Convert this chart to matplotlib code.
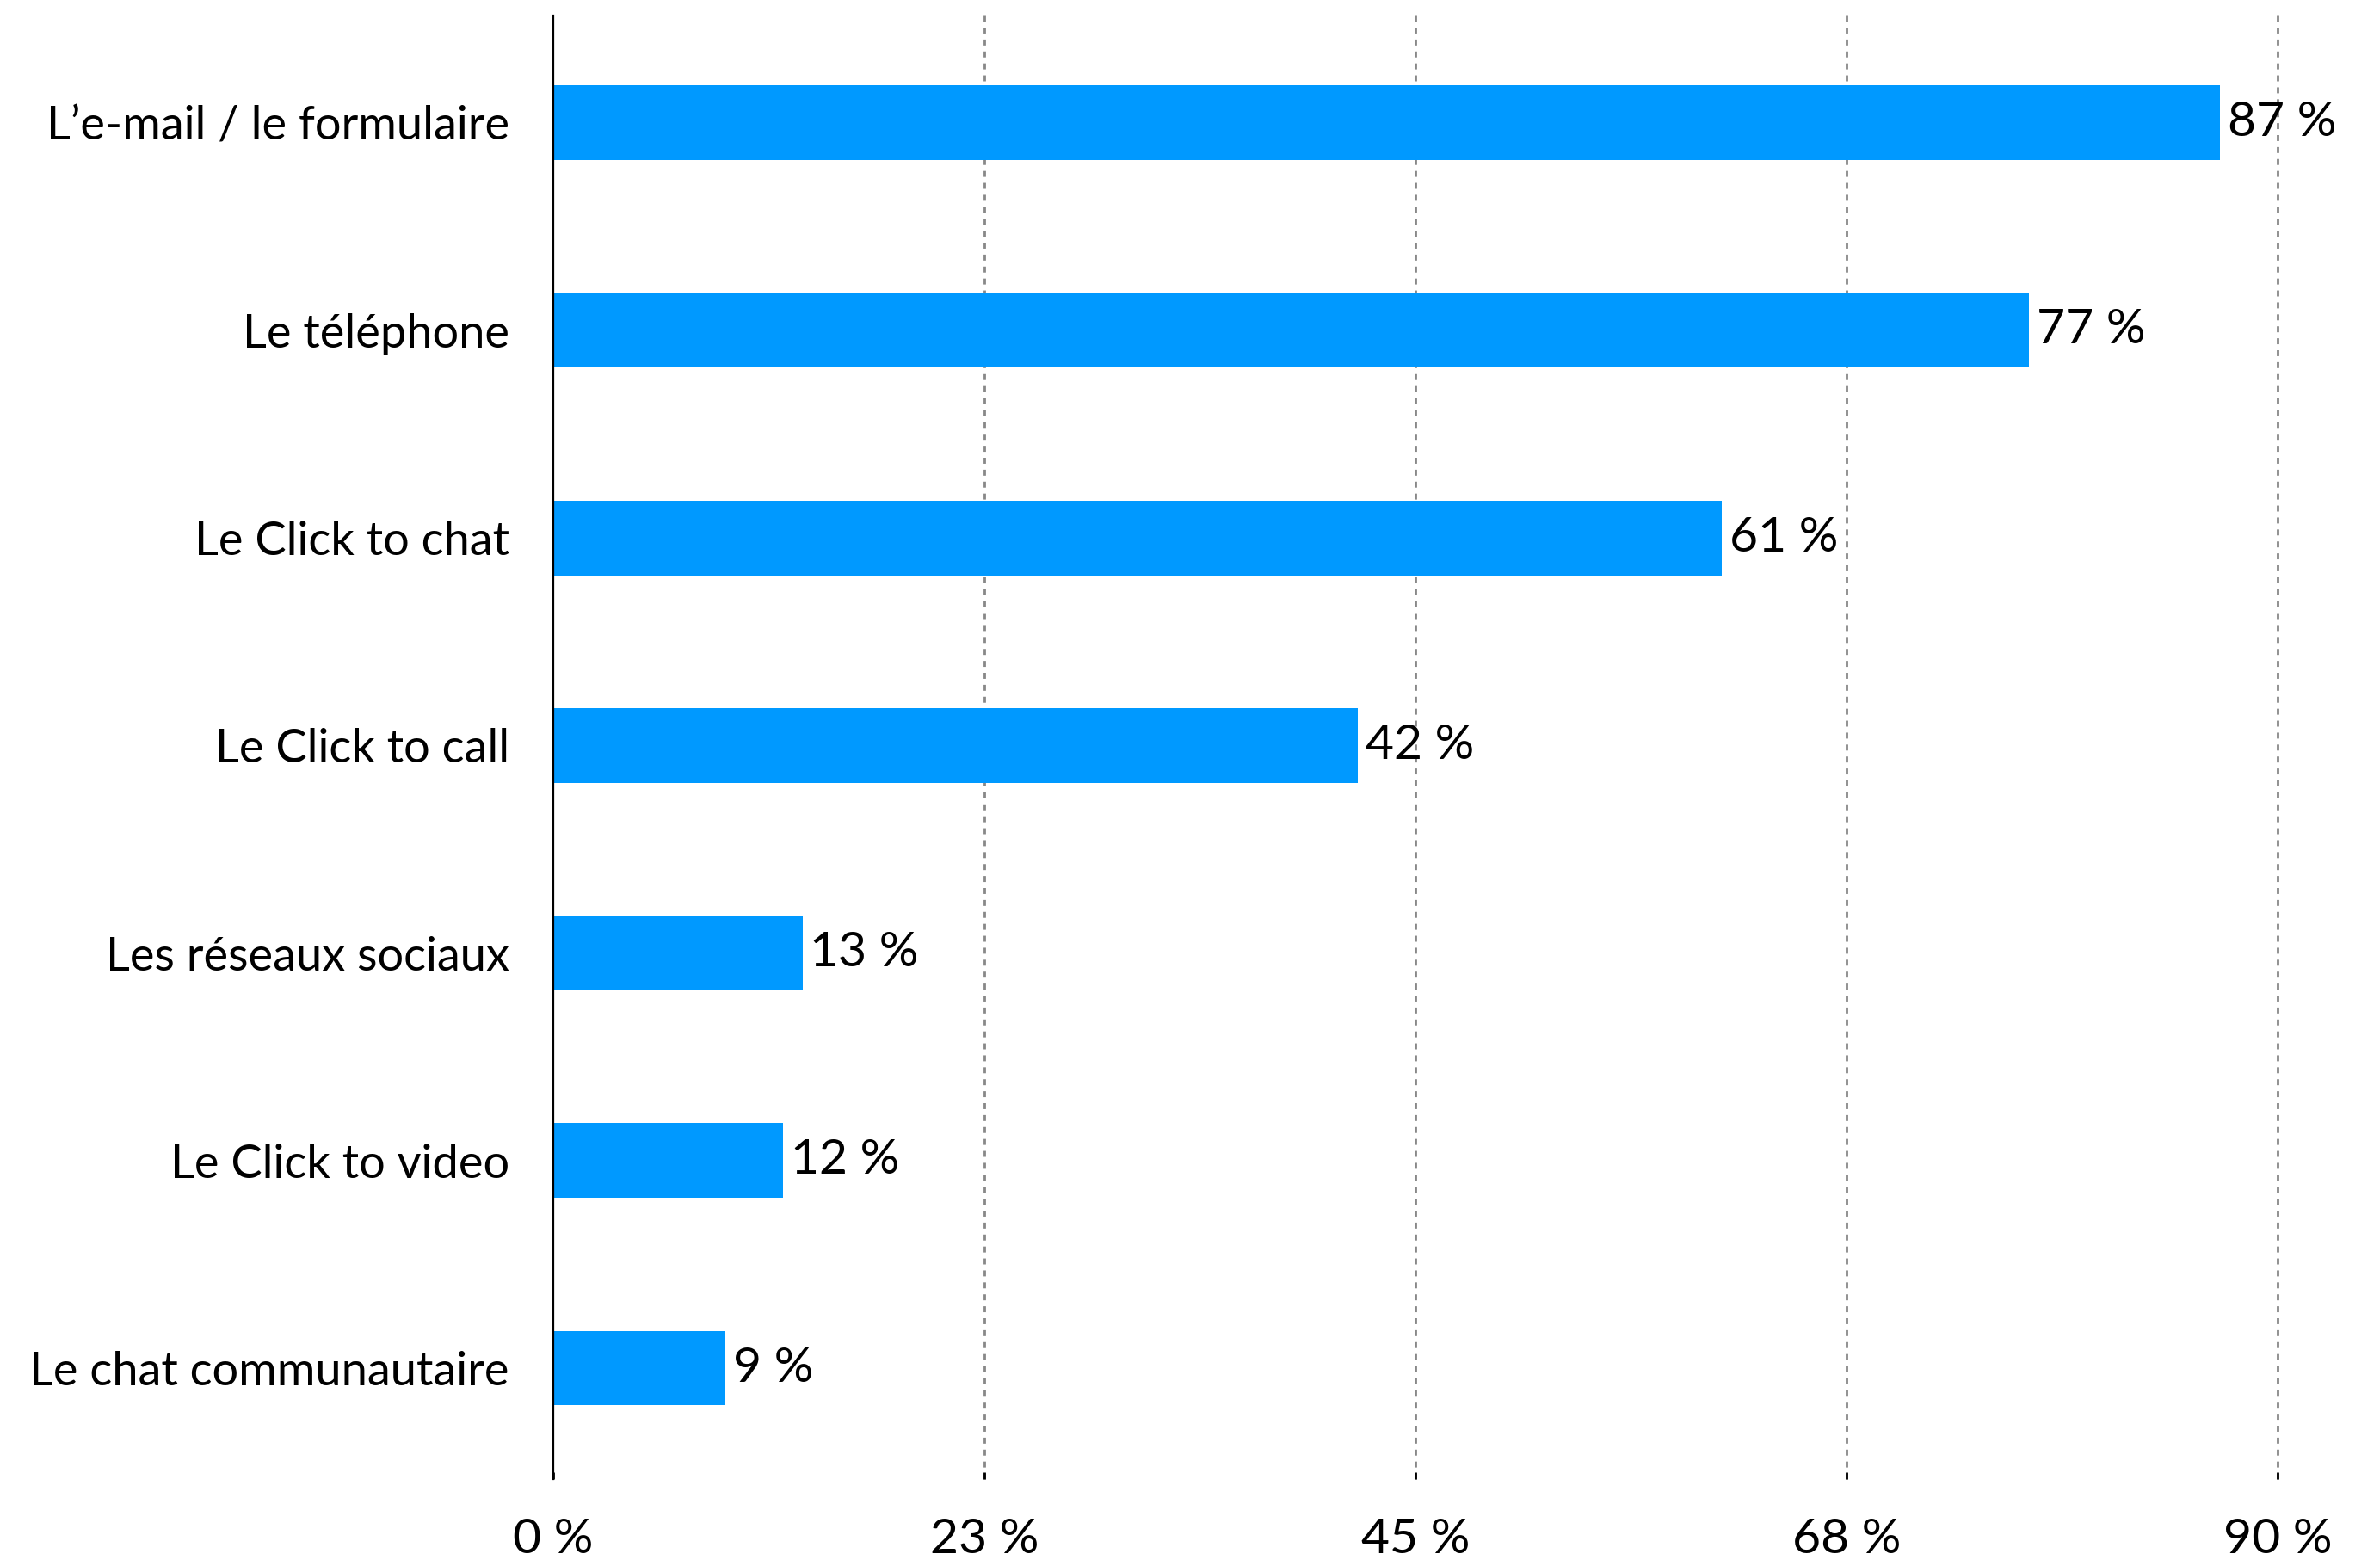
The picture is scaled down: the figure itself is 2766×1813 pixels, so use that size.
import matplotlib
matplotlib.use("Agg")
from matplotlib import pyplot as plt

categories = ["L\u2019e-mail / le formulaire", "Le t\u00e9l\u00e9phone", "Le Click to chat",
              "Le Click to call", "Les r\u00e9seaux sociaux", "Le Click to video",
              "Le chat communautaire"]
values = [87, 77, 61, 42, 13, 12, 9]
tick_values = [0, 22.5, 45, 67.5, 90]
tick_labels = ["0 %", "23 %", "45 %", "68 %", "90 %"]

plt.rcParams['font.family'] = ['Lato', 'DejaVu Sans']

fig = plt.figure(figsize=(27.66, 18.13), dpi=100)
ax = fig.add_axes([0.2325, 0.0518, 0.7245, 0.938])

ypos = list(range(len(categories)))
ax.barh(ypos, values, height=0.36, color='#0099ff', zorder=2)
for y, v in zip(ypos, values):
    ax.text(v + 0.4, y, f"{v} %", va='center', ha='left', fontsize=41, color='black', zorder=3)

ax.set_xlim(0, 90)
ax.set_ylim(len(categories) - 0.465, -0.515)
ax.set_yticks(ypos)
ax.set_yticklabels(categories, fontsize=39)
ax.set_xticks(tick_values)
ax.set_xticklabels(tick_labels, fontsize=41)
ax.tick_params(axis='y', length=0, pad=37)
ax.tick_params(axis='x', direction='in', length=6, width=2, color='black', pad=32)

# dotted grid, the last one sits on the axes edge so don't clip it
for t in tick_values[1:]:
    ax.axvline(t, color='#888888', linestyle=(0, (2.5, 2.5)), linewidth=2, zorder=1, clip_on=False)

for s in ['top', 'right', 'bottom']:
    ax.spines[s].set_visible(False)
ax.spines['left'].set_linewidth(1.6)
ax.spines['left'].set_color('black')

fig.savefig("out.png", dpi=100)
